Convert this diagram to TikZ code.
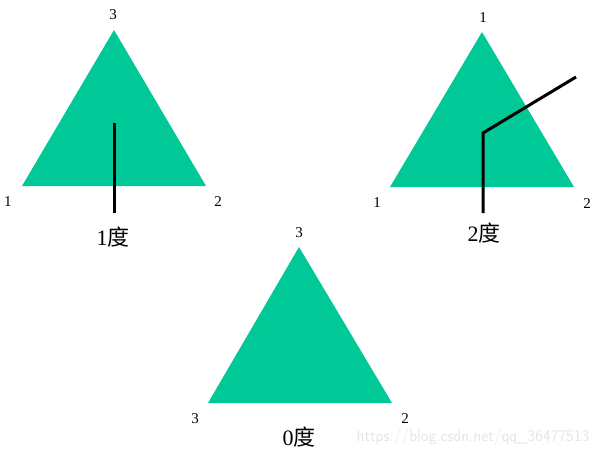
\documentclass[tikz,border=0pt]{standalone}
\usepackage{fontspec}
\setmainfont{Liberation Serif}
\newfontfamily\cjk{Noto Sans CJK SC}
\definecolor{tri}{RGB}{0,201,151}
\begin{document}
\begin{tikzpicture}[x=1pt,y=-1pt,
  trifill/.style={fill=tri,draw=none},
  vlab/.style={inner sep=0pt,font=\fontsize{15}{15}\selectfont},
  deg/.style={inner sep=0pt,font=\fontsize{22}{22}\selectfont},
  bar/.style={line width=3pt,black}]
\useasboundingbox (0,0) rectangle (611,455);
% triangle 1
\coordinate (a1) at (114,30);
\coordinate (b1) at (22,186);
\coordinate (c1) at (206,186);
\fill[trifill] (a1) -- (b1) -- (c1) -- cycle;
\node[vlab] (t1a) at (113,15) {3};
\node[vlab] (t1b) at (8,202) {1};
\node[vlab] (t1c) at (218,202) {2};
\coordinate (p1) at (114,123);
\coordinate (q1) at (114,213);
\draw[bar] (p1) -- (q1);
\node[deg] (d1) at (113,237) {1{\cjk 度}};
% triangle 2
\coordinate (a2) at (482,32);
\coordinate (b2) at (390,187);
\coordinate (c2) at (574,187);
\fill[trifill] (a2) -- (b2) -- (c2) -- cycle;
\node[vlab] (t2a) at (483,18) {1};
\node[vlab] (t2b) at (377,203) {1};
\node[vlab] (t2c) at (587,204) {2};
\coordinate (p2) at (483,213);
\coordinate (m2) at (483,133);
\coordinate (r2) at (576,77);
\draw[bar,line join=miter] (p2) -- (m2) -- (r2);
\node[deg] (d2) at (484,233) {2{\cjk 度}};
% triangle 3
\coordinate (a3) at (299,247);
\coordinate (b3) at (208,403);
\coordinate (c3) at (392,403);
\fill[trifill] (a3) -- (b3) -- (c3) -- cycle;
\node[vlab] (t3a) at (299,233) {3};
\node[vlab] (t3b) at (195,419) {3};
\node[vlab] (t3c) at (405,419) {2};
\node[deg] (d3) at (299,437) {0{\cjk 度}};
\node[inner sep=0pt,font=\fontsize{16.4}{16.4}\sffamily,text=black!10] (wm) at (473,437) {https://blog.csdn.net/qq\_36477513};
\end{tikzpicture}
\end{document}
